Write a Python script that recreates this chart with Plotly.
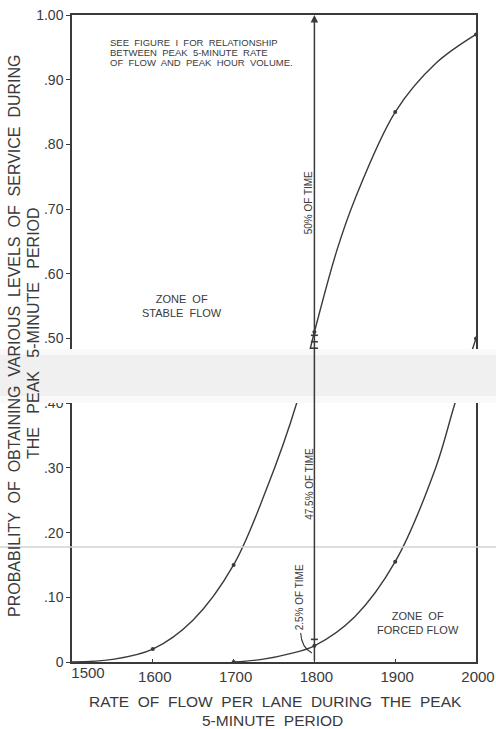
import plotly.graph_objects as go

# Rate of flow per lane during the peak 5-minute period (veh/hr)
flow_points = [1500, 1600, 1700, 1800, 1900, 2000]

# Probability curves, plotted points at each 100 veh/hr step
p_stable_points = [0.0, 0.02, 0.15, 0.51, 0.85, 0.97]
flow_forced_points = [1700, 1800, 1900, 2000]
p_forced_points = [0.0, 0.025, 0.155, 0.50]

# Curve traces
flow_stable_curve = [1500, 1550, 1600, 1650, 1700, 1740, 1778, 1800, 1828, 1850, 1900, 1950, 2000]
p_stable_curve = [0.0, 0.004, 0.02, 0.065, 0.15, 0.265, 0.40, 0.51, 0.637, 0.715, 0.85, 0.925, 0.97]
flow_forced_curve = [1700, 1735, 1770, 1800, 1850, 1900, 1950, 1974, 2000]
p_forced_curve = [0.0, 0.004, 0.013, 0.025, 0.07, 0.155, 0.30, 0.40, 0.50]

y_tick_vals = [0, 0.1, 0.2, 0.3, 0.4, 0.5, 0.6, 0.7, 0.8, 0.9, 1.0]
y_tick_text = ["0", ".10", ".20", ".30", ".40", ".50", ".60", ".70", ".80", ".90", "1.00"]
x_tick_vals = [1500, 1600, 1700, 1800, 1900, 2000]
x_tick_text = ["1500", "1600", "1700", "1800", "1900", "2000"]

INK = "#3a3a3a"
FONT = "Liberation Sans, Arial, sans-serif"

fig = go.Figure()

fig.add_trace(go.Scatter(
    x=flow_stable_curve, y=p_stable_curve, mode="lines",
    line=dict(color=INK, width=1.4, shape="spline", smoothing=1.0),
    hoverinfo="skip", showlegend=False))
fig.add_trace(go.Scatter(
    x=flow_forced_curve, y=p_forced_curve, mode="lines",
    line=dict(color=INK, width=1.4, shape="spline", smoothing=1.0),
    hoverinfo="skip", showlegend=False))
fig.add_trace(go.Scatter(
    x=flow_points[1:], y=p_stable_points[1:], mode="markers",
    marker=dict(color=INK, size=4), hoverinfo="skip", showlegend=False))
fig.add_trace(go.Scatter(
    x=flow_forced_points, y=p_forced_points, mode="markers",
    marker=dict(color=INK, size=4), hoverinfo="skip", showlegend=False))

# Ticks marking the 50% boundary on the 1800 line
fig.add_trace(go.Scatter(
    x=[1800, 1800, 1800, 1800], y=[0.485, 0.495, 0.505, 0.035], mode="markers",
    marker=dict(color=INK, size=5, symbol="line-ew-open", line=dict(width=1.6, color=INK)),
    hoverinfo="skip", showlegend=False))

# Invisible trace carrying the second x axis (offset label for the first tick)
fig.add_trace(go.Scatter(
    x=[flow_points[0]], y=[p_stable_points[0]], xaxis="x2", mode="markers",
    marker=dict(opacity=0), hoverinfo="skip", showlegend=False))

# Vertical divider at 1800 with arrow at the top
fig.add_annotation(x=1800, y=1.0, ax=1800, ay=0.0, xref="x", yref="y",
                   axref="x", ayref="y", showarrow=True, arrowhead=2,
                   arrowsize=1, arrowwidth=1.5, arrowcolor=INK, text="")

fig.add_shape(type="path", xref="x", yref="y",
              path="M 1783,0.045 Q 1784,0.022 1797,0.014",
              line=dict(color=INK, width=1.1))

notes = [
    dict(x=1793, y=0.71, text="50% OF TIME"),
    dict(x=1793, y=0.275, text="47.5% OF TIME"),
    dict(x=1781, y=0.10, text="2.5% OF TIME"),
]
for n in notes:
    fig.add_annotation(x=n["x"], y=n["y"], xref="x", yref="y", text=n["text"],
                       textangle=-90, showarrow=False,
                       xanchor="center", yanchor="middle",
                       font=dict(family=FONT, size=10, color=INK))

see_lines = ["SEE  FIGURE  I  FOR  RELATIONSHIP",
             "BETWEEN  PEAK  5-MINUTE  RATE",
             "OF  FLOW  AND  PEAK  HOUR  VOLUME."]
for i, line in enumerate(see_lines):
    fig.add_annotation(x=1545, y=(662 - 42 - 10 * i) / 647, xref="x", yref="y",
                       xanchor="left", yanchor="middle", showarrow=False, text=line,
                       font=dict(family=FONT, size=9.5, color=INK))

fig.add_annotation(x=1636, y=0.551, xref="x", yref="y", showarrow=False,
                   xanchor="center", yanchor="middle",
                   text="ZONE  OF<br>STABLE  FLOW",
                   font=dict(family=FONT, size=11, color=INK))
fig.add_annotation(x=1928, y=0.06, xref="x", yref="y", showarrow=False,
                   xanchor="center", yanchor="middle",
                   text="ZONE  OF<br>FORCED FLOW",
                   font=dict(family=FONT, size=11, color=INK))

# Axis titles
fig.add_annotation(x=-58 / 404, y=(662 - 336) / 647, xref="paper", yref="paper",
                   text="PROBABILITY  OF  OBTAINING  VARIOUS  LEVELS  OF  SERVICE  DURING",
                   textangle=-90, showarrow=False, xanchor="center", yanchor="middle",
                   font=dict(family=FONT, size=16, color=INK))
fig.add_annotation(x=-39 / 404, y=(662 - 333) / 647, xref="paper", yref="paper",
                   text="THE   PEAK   5-MINUTE   PERIOD",
                   textangle=-90, showarrow=False, xanchor="center", yanchor="middle",
                   font=dict(family=FONT, size=16, color=INK))
fig.add_annotation(x=(275 - 72) / 404, y=-(701 - 662) / 647, xref="paper", yref="paper",
                   text="RATE  OF  FLOW  PER  LANE  DURING  THE  PEAK",
                   showarrow=False, xanchor="center", yanchor="middle",
                   font=dict(family=FONT, size=15.5, color=INK))
fig.add_annotation(x=(272 - 72) / 404, y=-(720 - 662) / 647, xref="paper", yref="paper",
                   text="5-MINUTE  PERIOD",
                   showarrow=False, xanchor="center", yanchor="middle",
                   font=dict(family=FONT, size=15.5, color=INK))

# Light fold band across the sheet and a faint crease line
fig.add_shape(type="rect", xref="paper", yref="paper", layer="above",
              x0=-0.2, x1=1.1, y0=(662 - 403) / 647, y1=(662 - 349) / 647,
              fillcolor="#f9f9f9", line=dict(width=0))
fig.add_shape(type="rect", xref="paper", yref="paper", layer="above",
              x0=-0.2, x1=1.1, y0=(662 - 396) / 647, y1=(662 - 355) / 647,
              fillcolor="#f0f0f0", line=dict(width=0))
fig.add_shape(type="line", xref="paper", yref="paper", layer="above",
              x0=-0.2, x1=1.1, y0=(662 - 547) / 647, y1=(662 - 547) / 647,
              line=dict(color="#d2d2d2", width=1.6))

fig.update_layout(
    xaxis=dict(range=[1500, 2000], tickvals=x_tick_vals[1:], ticktext=x_tick_text[1:],
               ticks="inside", ticklen=3, tickcolor=INK, ticklabelshift=2,
               showline=True, mirror=True, linecolor=INK, linewidth=1.5,
               showgrid=False, zeroline=False, automargin=False,
               tickfont=dict(family=FONT, size=15, color=INK)),
    xaxis2=dict(range=[1500, 2000], overlaying="x", side="bottom", matches="x",
                tickvals=x_tick_vals[:1], ticktext=x_tick_text[:1],
                ticks="", ticklabelshift=16, showline=False, automargin=False,
                showgrid=False, zeroline=False,
                tickfont=dict(family=FONT, size=15, color=INK)),
    yaxis=dict(range=[0, 1.0], tickvals=y_tick_vals, ticktext=y_tick_text,
               ticks="outside", ticklen=4, tickcolor=INK,
               showline=True, mirror=True, linecolor=INK, linewidth=1.5,
               showgrid=False, zeroline=False, automargin=False,
               tickfont=dict(family=FONT, size=14, color=INK)),
    width=496, height=729, autosize=False,
    margin=dict(l=72, r=20, t=15, b=67),
    paper_bgcolor="white", plot_bgcolor="white",
    showlegend=False)

fig.write_html("out.html")
